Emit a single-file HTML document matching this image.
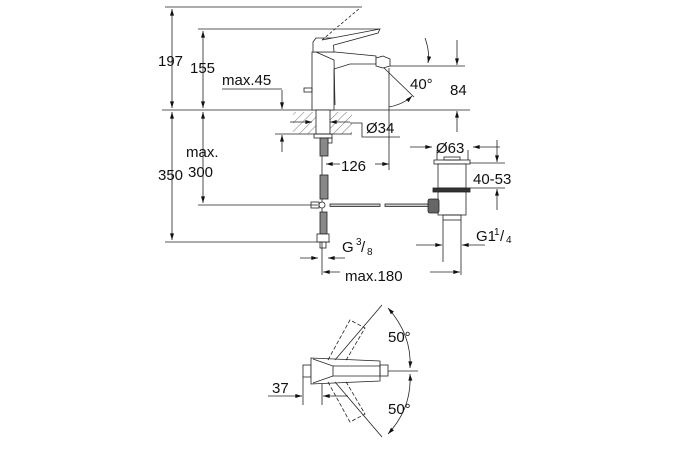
<!DOCTYPE html>
<html><head><style>body{margin:0;background:#fff}svg{display:block}text{font-family:"Liberation Sans",sans-serif;fill:#111}</style></head>
<body>
<svg width="675" height="450" viewBox="0 0 675 450" xmlns="http://www.w3.org/2000/svg">
<defs>
<marker id="a" viewBox="0 0 10 6" refX="10" refY="3" markerWidth="9" markerHeight="5" orient="auto-start-reverse"><path d="M0,0L10,3L0,6z" fill="#111"/></marker>
<pattern id="h" width="6" height="6" patternUnits="userSpaceOnUse" patternTransform="rotate(45)"><line x1="0" y1="0" x2="0" y2="6" stroke="#555" stroke-width="0.8"/></pattern>
</defs>
<g stroke="#222" stroke-width="0.8" fill="none">
<line x1="165" y1="7" x2="362" y2="7"/>
<line x1="198" y1="29" x2="380" y2="29"/>
<line x1="162" y1="110" x2="470" y2="110"/>
<line x1="165" y1="242" x2="330" y2="242"/>
<line x1="198" y1="205" x2="318" y2="205"/>
<line x1="275" y1="134" x2="352" y2="134"/>
<line x1="222" y1="89" x2="282" y2="89"/>
<line x1="172" y1="9" x2="172" y2="108" marker-start="url(#a)" marker-end="url(#a)"/>
<line x1="172" y1="112" x2="172" y2="240" marker-start="url(#a)" marker-end="url(#a)"/>
<line x1="203" y1="31" x2="203" y2="108" marker-start="url(#a)" marker-end="url(#a)"/>
<line x1="203" y1="112" x2="203" y2="203" marker-start="url(#a)" marker-end="url(#a)"/>
<line x1="282" y1="90" x2="282" y2="109" marker-end="url(#a)"/>
<line x1="282" y1="152" x2="282" y2="135" marker-end="url(#a)"/>
<rect x="293" y="112" width="59" height="22" fill="url(#h)" stroke="none"/>
<line x1="290" y1="122" x2="312" y2="122" marker-end="url(#a)"/>
<line x1="350" y1="122" x2="330" y2="122" marker-end="url(#a)"/>
<polyline points="350,123 362,123 362,137 400,137"/>
<path d="M312,52 L312,110 L334,110 L334,69 L350,64 L376,64 L376,56 L335,52 Z" fill="#fff"/>
<path d="M316,52 L334,60 L335,105"/>
<path d="M313,42 L316,38 L333,38 L334,52 L313,52 Z" fill="#fff"/>
<path d="M322,40 L380,29 L378,33 L334,45" fill="#fff"/>
<path d="M322,40 L360,8" stroke-dasharray="3,2"/>
<rect x="304" y="88" width="8" height="4"/>
<path d="M376,58 L383,56 L390,59 L390,66 L383,68 L376,66 Z" fill="#fff"/>
<line x1="390" y1="66" x2="440" y2="66"/>
<line x1="440" y1="66" x2="465" y2="66"/>
<line x1="457" y1="40" x2="457" y2="65" marker-end="url(#a)"/>
<line x1="457" y1="132" x2="457" y2="111" marker-end="url(#a)"/>
<line x1="384" y1="68" x2="414" y2="97"/>
<path d="M425,38 Q430,52 428,63" marker-end="url(#a)"/>
<path d="M389,107 Q404,104 412,96" marker-end="url(#a)"/>
<line x1="389" y1="68" x2="389" y2="170"/>
<line x1="326" y1="164" x2="340" y2="164" marker-start="url(#a)"/>
<line x1="375" y1="164" x2="389" y2="164" marker-end="url(#a)"/>
<line x1="322" y1="155" x2="322" y2="275"/>
<rect x="316" y="110" width="14" height="24" fill="#fff"/>
<rect x="314" y="134" width="18" height="4"/>
<rect x="328" y="138" width="4" height="5"/>
<rect x="320" y="138" width="8" height="18" fill="#888"/>
<rect x="320" y="175" width="8" height="24" fill="#888"/>
<rect x="320" y="212" width="7" height="22" fill="#888"/>
<rect x="317" y="234" width="12" height="8" fill="#fff"/>
<rect x="320" y="242" width="6" height="6"/>
<rect x="330" y="204" width="50" height="2.4" fill="#ccc"/>
<rect x="385" y="204" width="45" height="2.4" fill="#ccc"/>
<rect x="311" y="202" width="8" height="6"/>
<circle cx="322" cy="205" r="3" fill="#fff"/>
<line x1="300" y1="258" x2="318" y2="258" marker-end="url(#a)"/>
<line x1="345" y1="258" x2="328" y2="258" marker-end="url(#a)"/>
<line x1="410" y1="147" x2="432" y2="147" marker-end="url(#a)"/>
<line x1="500" y1="147" x2="473" y2="147" marker-end="url(#a)"/>
<line x1="437" y1="150" x2="437" y2="162"/><line x1="468" y1="150" x2="468" y2="162"/>
<rect x="434" y="160" width="36" height="4" fill="#fff"/>
<rect x="444" y="157" width="16" height="3"/>
<rect x="438" y="164" width="28" height="24" fill="#fff"/>
<rect x="433" y="188" width="37" height="4" fill="#333"/>
<rect x="438" y="192" width="28" height="23" fill="#fff"/>
<rect x="428" y="199" width="11" height="14" rx="2" fill="#666"/>
<rect x="443" y="215" width="18" height="5"/>
<line x1="443" y1="220" x2="443" y2="262"/>
<line x1="461" y1="220" x2="461" y2="275"/>
<line x1="470" y1="163" x2="505" y2="163"/>
<line x1="470" y1="188" x2="505" y2="188"/>
<line x1="497" y1="140" x2="497" y2="162" marker-end="url(#a)"/>
<line x1="497" y1="210" x2="497" y2="189" marker-end="url(#a)"/>
<line x1="416" y1="245" x2="442" y2="245" marker-end="url(#a)"/>
<line x1="485" y1="245" x2="462" y2="245" marker-end="url(#a)"/>
<line x1="323" y1="272" x2="340" y2="272" marker-start="url(#a)"/>
<line x1="430" y1="272" x2="460" y2="272" marker-end="url(#a)"/>
<rect x="303" y="365" width="8" height="12"/>
<path d="M311,358 L380,361 L380,381 L311,384 Z" fill="#fff"/>
<path d="M313,359 L333,366 L333,376 L313,383"/>
<line x1="333" y1="366" x2="380" y2="366"/><line x1="333" y1="376" x2="380" y2="376"/>
<rect x="380" y="365" width="8" height="11"/>
<line x1="388" y1="371" x2="418" y2="371"/>
<g stroke-dasharray="4,2">
<path d="M328,360 L350,320 L365,328 L345,362"/>
<path d="M328,382 L350,422 L365,414 L345,380"/>
</g>
<line x1="335" y1="360" x2="382" y2="305"/>
<line x1="335" y1="382" x2="382" y2="437"/>
<path d="M388,308 Q412,335 410,368" marker-start="url(#a)" marker-end="url(#a)"/>
<path d="M410,374 Q412,408 388,434" marker-start="url(#a)" marker-end="url(#a)"/>
<line x1="303" y1="377" x2="303" y2="405"/>
<line x1="322" y1="384" x2="322" y2="405"/>
<line x1="268" y1="396" x2="302" y2="396" marker-end="url(#a)"/>
<line x1="348" y1="396" x2="323" y2="396" marker-end="url(#a)"/>
</g>
<g font-size="15">
<text x="158" y="66">197</text>
<text x="190" y="73">155</text>
<text x="222" y="85">max.45</text>
<text x="186" y="157">max.</text>
<text x="158" y="180">350</text>
<text x="188" y="177">300</text>
<text x="366" y="133">Ø34</text>
<text x="341" y="171">126</text>
<text x="410" y="89">40°</text>
<text x="450" y="95">84</text>
<text x="436" y="153">Ø63</text>
<text x="473" y="184">40-53</text>
<text x="476" y="241">G1</text><text x="494" y="235" font-size="10">1</text><text x="500" y="241">/</text><text x="506" y="243" font-size="10">4</text>
<text x="342" y="252">G</text><text x="356" y="245" font-size="10">3</text><text x="361" y="252">/</text><text x="367" y="255" font-size="10">8</text>
<text x="345" y="281">max.180</text>
<text x="388" y="342">50°</text>
<text x="388" y="414">50°</text>
<text x="272" y="393">37</text>
</g>
</svg>
</body></html>
